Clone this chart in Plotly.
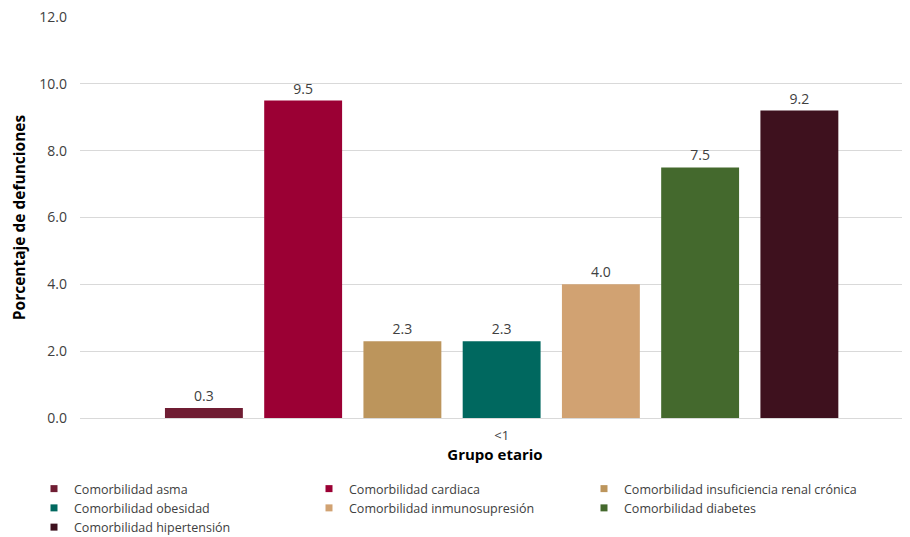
import plotly.graph_objects as go

categories = ["<1"]
series_names = [
    "Comorbilidad asma",
    "Comorbilidad cardiaca",
    "Comorbilidad insuficiencia renal crónica",
    "Comorbilidad obesidad",
    "Comorbilidad inmunosupresión",
    "Comorbilidad diabetes",
    "Comorbilidad hipertensión",
]
series_values = [0.3, 9.5, 2.3, 2.3, 4.0, 7.5, 9.2]
colors = ["#6F1D33", "#9B0034", "#BC955C", "#00685F", "#D1A272", "#44692D", "#3E111E"]
y_ticks = [0, 2, 4, 6, 8, 10, 12]

FONT = "Open Sans"
# page body has an 8px default margin; size the figure so it fits the 910x537 window
W, H = 902, 529

fig = go.Figure()
for name, val, col in zip(series_names, series_values, colors):
    fig.add_trace(go.Bar(
        x=categories, y=[val], name=name, showlegend=False,
        marker=dict(color=col, line=dict(width=0)),
        text=[f"{val:.1f}"], textposition="outside",
        textfont=dict(size=14, color="#404040", family=FONT),
        cliponaxis=False,
    ))
# legend entries (small square swatches)
for name, col in zip(series_names, colors):
    fig.add_trace(go.Scatter(
        x=[None], y=[None], name=name, mode="markers",
        marker=dict(symbol="square", size=7, color=col),
        showlegend=True,
    ))

fig.update_layout(
    width=W, height=H,
    margin=dict(l=72, r=0, t=9, b=119),
    paper_bgcolor="white", plot_bgcolor="white",
    barmode="group", bargap=0.163, bargroupgap=0.215,
    font=dict(family=FONT, size=13, color="#404040"),
    showlegend=True,
    legend=dict(
        orientation="h", xref="container", yref="container",
        x=26 / W, y=(H - 466) / H, xanchor="left", yanchor="top",
        entrywidth=230, entrywidthmode="pixels", itemwidth=30,
        font=dict(size=12.5, color="#404040", family=FONT),
        tracegroupgap=0,
    ),
    xaxis=dict(
        type="category", range=[-0.508, 0.492], automargin=False,
        title=dict(text="<b>Grupo etario</b>", font=dict(size=15, color="#000000"), standoff=6),
        tickfont=dict(size=13, color="#404040"),
        showgrid=False, showline=False, ticks="", ticklabelstandoff=8,
    ),
    yaxis=dict(
        automargin=False,
        range=[0, 12], tickvals=y_ticks, tickformat=".1f",
        ticklabeloverflow="allow",
        showgrid=True, gridcolor="#D9D9D9", gridwidth=1,
        zeroline=True, zerolinecolor="#D9D9D9", zerolinewidth=1,
        tickfont=dict(size=14, color="#404040"),
        title=dict(text="<b>Porcentaje de defunciones</b>", font=dict(size=15.5, color="#000000"), standoff=10),
        ticks="", ticklabelstandoff=12,
    ),
)

fig.write_html("out.html")
